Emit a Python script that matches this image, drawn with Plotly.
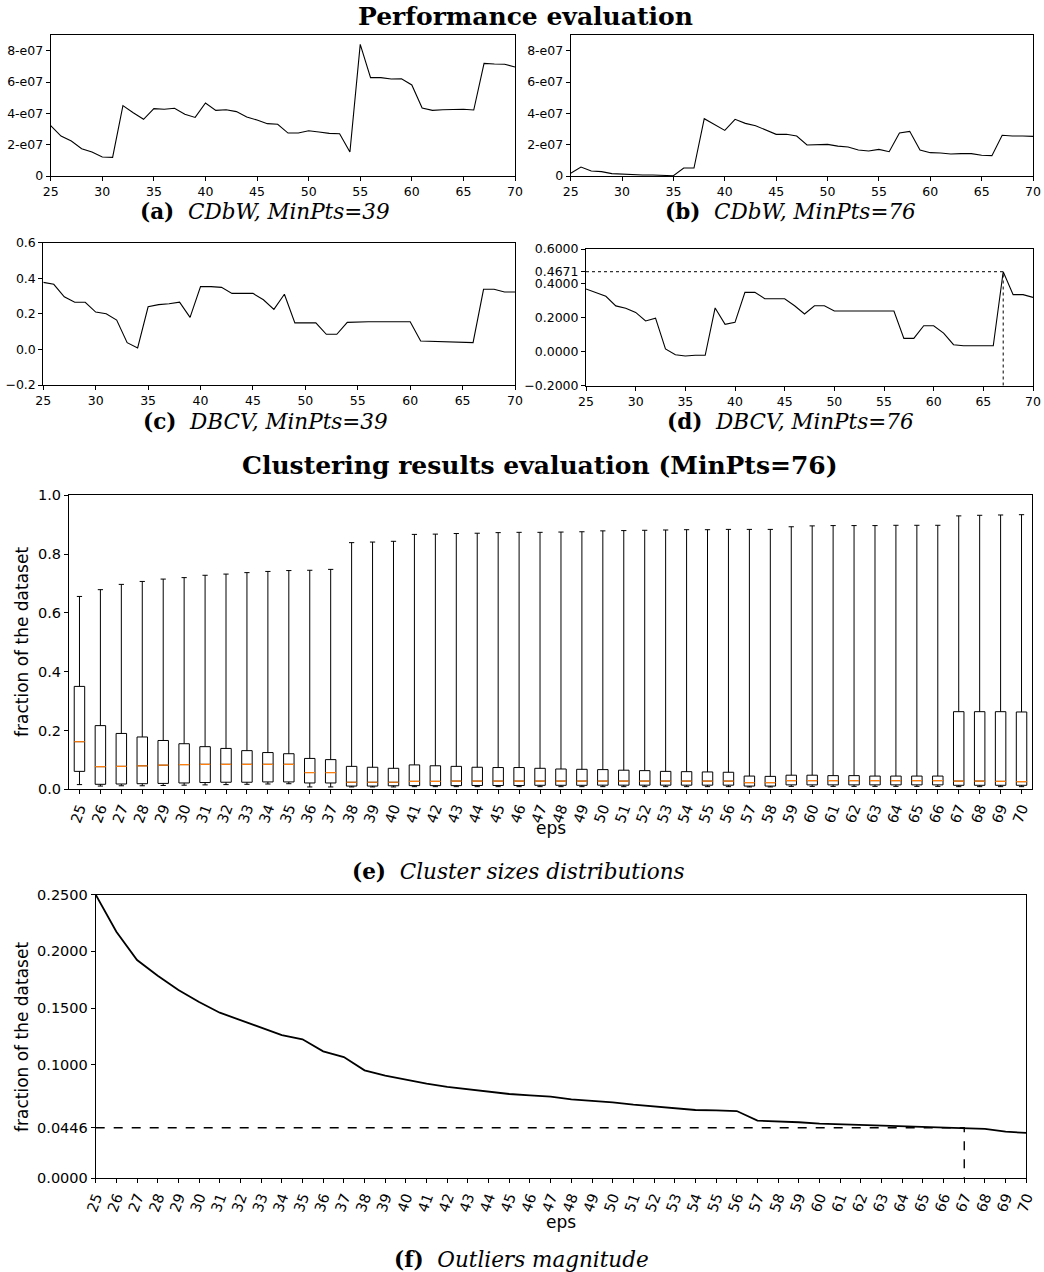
import plotly.graph_objects as go

# ---------------- data ----------------
eps = list(range(25, 71))

cdbw_39 = [3.21e7, 2.55e7, 2.23e7, 1.74e7, 1.53e7, 1.21e7, 1.19e7, 4.49e7, 4.04e7, 3.62e7,
           4.30e7, 4.26e7, 4.32e7, 3.94e7, 3.74e7, 4.66e7, 4.19e7, 4.23e7, 4.11e7, 3.77e7,
           3.57e7, 3.34e7, 3.30e7, 2.74e7, 2.74e7, 2.89e7, 2.81e7, 2.72e7, 2.70e7, 1.53e7,
           8.40e7, 6.28e7, 6.28e7, 6.19e7, 6.21e7, 5.81e7, 4.34e7, 4.19e7, 4.23e7, 4.23e7,
           4.26e7, 4.21e7, 7.19e7, 7.15e7, 7.13e7, 6.96e7]

cdbw_76 = [0.17e7, 0.57e7, 0.32e7, 0.28e7, 0.15e7, 0.11e7, 0.085e7, 0.06e7, 0.06e7, 0.04e7,
           0.02e7, 0.51e7, 0.51e7, 3.66e7, 3.28e7, 2.91e7, 3.62e7, 3.36e7, 3.21e7, 2.94e7,
           2.66e7, 2.66e7, 2.55e7, 1.98e7, 2.02e7, 2.02e7, 1.91e7, 1.85e7, 1.66e7, 1.60e7,
           1.70e7, 1.55e7, 2.74e7, 2.85e7, 1.66e7, 1.49e7, 1.47e7, 1.40e7, 1.43e7, 1.43e7,
           1.32e7, 1.30e7, 2.60e7, 2.55e7, 2.55e7, 2.53e7]

dbcv_39 = [0.377, 0.366, 0.296, 0.265, 0.265, 0.210, 0.201, 0.165, 0.038, 0.008,
           0.240, 0.252, 0.257, 0.266, 0.180, 0.353, 0.353, 0.349, 0.315, 0.315,
           0.315, 0.279, 0.225, 0.310, 0.149, 0.149, 0.149, 0.085, 0.085, 0.152,
           0.156, 0.156, 0.156, 0.156, 0.156, 0.156, 0.047, 0.045, 0.040, 0.040,
           0.040, 0.038, 0.338, 0.338, 0.323, 0.323]

dbcv_76 = [0.366, 0.346, 0.323, 0.267, 0.253, 0.229, 0.179, 0.195, 0.015, -0.0185,
           -0.026, -0.022, -0.022, 0.255, 0.159, 0.171, 0.346, 0.346, 0.309, 0.309,
           0.309, 0.268, 0.220, 0.268, 0.268, 0.237, 0.237, 0.237, 0.237, 0.237,
           0.237, 0.237, 0.077, 0.077, 0.151, 0.151, 0.108, 0.040, 0.034, 0.034,
           0.034, 0.034, 0.4671, 0.333, 0.333, 0.317]
dbcv_best_eps = 67
dbcv_best_val = 0.4671

# cluster sizes distribution (fraction of dataset), MinPts=76
box_upper = [0.656, 0.679, 0.697, 0.707, 0.715, 0.720, 0.728, 0.732, 0.737, 0.741,
             0.744, 0.745, 0.748, 0.839, 0.841, 0.8435, 0.867, 0.868, 0.870, 0.871,
             0.873, 0.874, 0.874, 0.875, 0.876, 0.879, 0.880, 0.881, 0.882, 0.883,
             0.883, 0.884, 0.884, 0.884, 0.893, 0.896, 0.897, 0.897, 0.897, 0.898,
             0.898, 0.898, 0.930, 0.932, 0.933, 0.934]
box_q3 = [0.350, 0.2166, 0.190, 0.178, 0.166, 0.155, 0.145, 0.139, 0.1315, 0.125,
          0.121, 0.105, 0.101, 0.078, 0.075, 0.0714, 0.083, 0.080, 0.078, 0.075,
          0.074, 0.074, 0.0714, 0.069, 0.068, 0.067, 0.065, 0.0635, 0.061, 0.060,
          0.059, 0.058, 0.045, 0.044, 0.048, 0.048, 0.0465, 0.0465, 0.045, 0.045,
          0.045, 0.045, 0.264, 0.264, 0.264, 0.263]
box_median = [0.162, 0.077, 0.078, 0.080, 0.082, 0.084, 0.085, 0.085, 0.085, 0.085,
              0.085, 0.057, 0.057, 0.024, 0.024, 0.024, 0.027, 0.027, 0.028, 0.028,
              0.028, 0.028, 0.028, 0.028, 0.028, 0.028, 0.028, 0.028, 0.028, 0.028,
              0.028, 0.028, 0.0227, 0.0227, 0.0295, 0.0295, 0.0295, 0.0295, 0.0295, 0.0295,
              0.0295, 0.0295, 0.028, 0.028, 0.027, 0.026]
box_q1 = [0.061, 0.017, 0.018, 0.019, 0.020, 0.0215, 0.023, 0.024, 0.024, 0.025,
          0.025, 0.0215, 0.0215, 0.011, 0.011, 0.012, 0.0125, 0.0125, 0.0125, 0.013,
          0.013, 0.013, 0.0136, 0.0136, 0.0136, 0.014, 0.014, 0.014, 0.014, 0.014,
          0.014, 0.014, 0.011, 0.011, 0.015, 0.015, 0.015, 0.015, 0.015, 0.015,
          0.015, 0.015, 0.0136, 0.0136, 0.0136, 0.0136]
box_lower = [0.016, 0.011, 0.012, 0.012, 0.013, 0.014, 0.015, 0.016, 0.017, 0.018,
             0.019, 0.008, 0.008, 0.008, 0.008, 0.008, 0.009, 0.009, 0.009, 0.009,
             0.009, 0.009, 0.009, 0.009, 0.009, 0.009, 0.009, 0.009, 0.009, 0.009,
             0.009, 0.009, 0.008, 0.008, 0.010, 0.010, 0.010, 0.010, 0.010, 0.010,
             0.010, 0.010, 0.009, 0.009, 0.009, 0.009]

outliers = [0.250, 0.2174, 0.1924, 0.1786, 0.166, 0.1554, 0.146, 0.1395, 0.1328, 0.1263,
            0.1225, 0.1119, 0.1069, 0.0952, 0.0905, 0.0867, 0.0834, 0.0805, 0.0784, 0.0761,
            0.0743, 0.0731, 0.0720, 0.0696, 0.0684, 0.0670, 0.0649, 0.0632, 0.0617, 0.0602,
            0.0599, 0.0593, 0.0508, 0.0502, 0.0494, 0.0482, 0.0476, 0.0470, 0.0464, 0.0458,
            0.0455, 0.0452, 0.0446, 0.0435, 0.0411, 0.0400]
outl_best_eps = 67
outl_best_val = 0.0446

cdbw_ticks = [0, 2e7, 4e7, 6e7, 8e7]
cdbw_ticktext = ["0", "2-e07", "4-e07", "6-e07", "8-e07"]
dbcv39_ticks = [-0.2, 0.0, 0.2, 0.4, 0.6]
dbcv39_ticktext = ["\u22120.2", "0.0", "0.2", "0.4", "0.6"]
dbcv76_ticks = [-0.2, 0.0, 0.2, 0.4, 0.4671, 0.6]
dbcv76_ticktext = ["\u22120.2000", "0.0000", "0.2000", "0.4000", "0.4671", "0.6000"]
box_ticks = [0.0, 0.2, 0.4, 0.6, 0.8, 1.0]
box_ticktext = ["0.0", "0.2", "0.4", "0.6", "0.8", "1.0"]
outl_ticks = [0.0, 0.0446, 0.1, 0.15, 0.2, 0.25]
outl_ticktext = ["0.0000", "0.0446", "0.1000", "0.1500", "0.2000", "0.2500"]

# ---------------- layout helpers ----------------
W, H = 1044, 1272


def fx(p):
    return p / W


def fy(p):
    return 1 - p / H


SANS = "DejaVu Sans"
SERIF = "DejaVu Serif"


def axis(domain, size, **kw):
    d = dict(domain=domain, showline=True, mirror=True, linecolor="black", linewidth=1,
             ticks="outside", ticklen=4, tickwidth=1, tickcolor="black", showgrid=False,
             zeroline=False, automargin=False,
             tickfont=dict(family=SANS, size=size, color="black"))
    d.update(kw)
    return d


fig = go.Figure()
line_style = dict(color="black", width=1.1)

fig.add_trace(go.Scatter(x=eps, y=cdbw_39, mode="lines", line=line_style, xaxis="x", yaxis="y"))
fig.add_trace(go.Scatter(x=eps, y=cdbw_76, mode="lines", line=line_style, xaxis="x2", yaxis="y2"))
fig.add_trace(go.Scatter(x=eps, y=dbcv_39, mode="lines", line=line_style, xaxis="x3", yaxis="y3"))
fig.add_trace(go.Scatter(x=eps, y=dbcv_76, mode="lines", line=line_style, xaxis="x4", yaxis="y4"))
# dotted reference lines for best DBCV
fig.add_trace(go.Scatter(x=[eps[0], dbcv_best_eps, dbcv_best_eps],
                         y=[dbcv_best_val, dbcv_best_val, dbcv76_ticks[0]],
                         mode="lines", line=dict(color="black", width=1, dash="dot"),
                         xaxis="x4", yaxis="y4"))

# box plot (e)
pos = list(range(1, len(eps) + 1))
fig.add_trace(go.Box(x=pos, q1=box_q1, median=box_median, q3=box_q3,
                     lowerfence=box_lower, upperfence=box_upper,
                     width=0.5, whiskerwidth=0.5, fillcolor="white",
                     line=dict(color="black", width=1), boxpoints=False,
                     xaxis="x5", yaxis="y5", hoverinfo="skip"))
mx, my = [], []
for p, m in zip(pos, box_median):
    mx += [p - 0.25, p + 0.25, None]
    my += [m, m, None]
fig.add_trace(go.Scatter(x=mx, y=my, mode="lines", line=dict(color="#ff7f0e", width=1.2),
                         xaxis="x5", yaxis="y5"))

# outliers (f)
fig.add_trace(go.Scatter(x=eps, y=outliers, mode="lines", line=dict(color="black", width=1.8),
                         xaxis="x6", yaxis="y6"))
fig.add_trace(go.Scatter(x=[eps[0], outl_best_eps, outl_best_eps],
                         y=[outl_best_val, outl_best_val, 0],
                         mode="lines", line=dict(color="black", width=1.4, dash="dash"),
                         xaxis="x6", yaxis="y6"))

five = list(range(25, 71, 5))
fs_small = 12.5
fs_big = 14.5

layout = dict(
    width=W, height=H, margin=dict(l=0, r=0, t=0, b=0),
    paper_bgcolor="white", plot_bgcolor="white", showlegend=False,
    xaxis=axis([fx(50.7), fx(515)], fs_small, anchor="y", range=[25, 70], tickvals=five),
    yaxis=axis([fy(176), fy(35)], fs_small, anchor="x", range=[0, 9e7],
               tickvals=cdbw_ticks, ticktext=cdbw_ticktext),
    xaxis2=axis([fx(570.7), fx(1033)], fs_small, anchor="y2", range=[25, 70], tickvals=five),
    yaxis2=axis([fy(176), fy(35)], fs_small, anchor="x2", range=[0, 9e7],
                tickvals=cdbw_ticks, ticktext=cdbw_ticktext),
    xaxis3=axis([fx(43.3), fx(515)], fs_small, anchor="y3", range=[25, 70], tickvals=five),
    yaxis3=axis([fy(385), fy(242.7)], fs_small, anchor="x3", range=[-0.2, 0.6],
                tickvals=dbcv39_ticks, ticktext=dbcv39_ticktext),
    xaxis4=axis([fx(586), fx(1033)], fs_small, anchor="y4", range=[25, 70], tickvals=five),
    yaxis4=axis([fy(385.7), fy(249)], fs_small, anchor="x4", range=[-0.2, 0.6],
                tickvals=dbcv76_ticks, ticktext=dbcv76_ticktext),
    xaxis5=axis([fx(69), fx(1032)], fs_big, anchor="y5", range=[0.5, len(eps) + 0.5],
                tickvals=pos, ticktext=[str(e) for e in eps], tickangle=-70),
    yaxis5=axis([fy(789.3), fy(495.3)], fs_big, anchor="x5", range=[0, 1.0],
                tickvals=box_ticks, ticktext=box_ticktext),
    xaxis6=axis([fx(95.7), fx(1026.3)], fs_big, anchor="y6", range=[25, 70],
                tickvals=eps, ticktext=[str(e) for e in eps], tickangle=-70),
    yaxis6=axis([fy(1178.3), fy(894.7)], fs_big, anchor="x6", range=[0, 0.25],
                tickvals=outl_ticks, ticktext=outl_ticktext),
)
fig.update_layout(**layout)

ann = []


def text(x, y, s, size, family=SERIF, angle=0, **kw):
    ann.append(dict(x=fx(x), y=fy(y), xref="paper", yref="paper", text=s, showarrow=False,
                    font=dict(family=family, size=size, color="black"), textangle=angle,
                    xanchor="center", yanchor="middle", **kw))


text(525, 17, "<b>Performance evaluation</b>", 25)
text(540, 466, "<b>Clustering results evaluation (MinPts=76)</b>", 25)
text(265, 211, "<b>(a)</b>  <i>CDbW, MinPts=39</i>", 21.5)
text(790, 211, "<b>(b)</b>  <i>CDbW, MinPts=76</i>", 21.5)
text(265, 421, "<b>(c)</b>  <i>DBCV, MinPts=39</i>", 21.5)
text(790, 421, "<b>(d)</b>  <i>DBCV, MinPts=76</i>", 21.5)
text(518, 871, "<b>(e)</b>  <i>Cluster sizes distributions</i>", 21.5)
text(521, 1259, "<b>(f)</b>  <i>Outliers magnitude</i>", 21.5)
text(551, 828, "eps", 17, family=SANS)
text(561, 1222, "eps", 17, family=SANS)
text(22, 642, "fraction of the dataset", 17, family=SANS, angle=-90)
text(22, 1037, "fraction of the dataset", 17, family=SANS, angle=-90)
fig.update_layout(annotations=ann)

fig.write_html("out.html")
